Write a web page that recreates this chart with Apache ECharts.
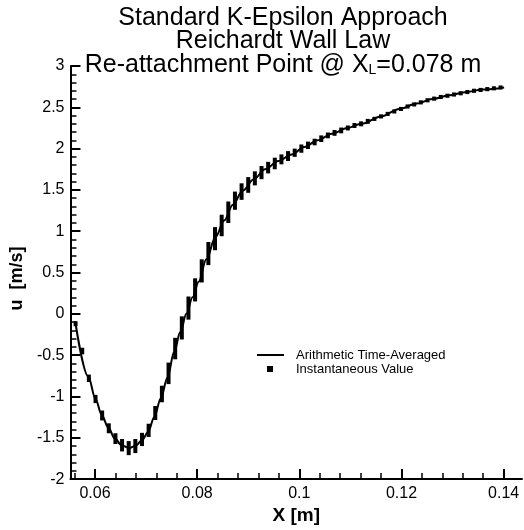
<!DOCTYPE html>
<html>
<head>
<meta charset="utf-8">
<script src="https://cdn.jsdelivr.net/npm/echarts@6/dist/echarts.min.js"></script>
<style>
html,body{margin:0;padding:0;background:#fff;}
#main{width:524px;height:530px;}
</style>
</head>
<body>
<div id="main"></div>
<script>
// Arithmetic time-averaged velocity profile
const xAvg = [0.0562, 0.0587, 0.0601, 0.0613, 0.0626, 0.0639, 0.0652, 0.0667, 0.0680, 0.0692, 0.0704, 0.0716, 0.0729, 0.0742, 0.0755, 0.0767, 0.0779, 0.0791, 0.0803, 0.0818, 0.0836, 0.0853, 0.0870, 0.0889, 0.0911, 0.0933, 0.0959, 0.0985, 0.1010, 0.1036, 0.1064, 0.1094, 0.1122, 0.1160, 0.1196, 0.1230, 0.1260, 0.1294, 0.1324, 0.1360, 0.1401];
const uAvg = [-0.12, -0.76, -1.03, -1.22, -1.375, -1.51, -1.59, -1.625, -1.595, -1.53, -1.43, -1.25, -1.02, -0.77, -0.46, -0.22, 0.0, 0.20, 0.39, 0.66, 0.93, 1.13, 1.32, 1.49, 1.63, 1.75, 1.85, 1.93, 2.02, 2.10, 2.18, 2.25, 2.30, 2.39, 2.48, 2.545, 2.60, 2.645, 2.683, 2.715, 2.74];

// Instantaneous values: position, centre value and half-spread of the marks
const xInst = [0.0562, 0.0575, 0.0588, 0.0601, 0.0614, 0.0627, 0.0640, 0.0653, 0.0666, 0.0679, 0.0692, 0.0705, 0.0718, 0.0731, 0.0744, 0.0757, 0.0770, 0.0783, 0.0796, 0.0809, 0.0822, 0.0835, 0.0848, 0.0861, 0.0874, 0.0887, 0.0900, 0.0913, 0.0926, 0.0939, 0.0952, 0.0965, 0.0978, 0.0991, 0.1004, 0.1017, 0.1030, 0.1043, 0.1056, 0.1069, 0.1082, 0.1095, 0.1108, 0.1121, 0.1134, 0.1147, 0.1160, 0.1173, 0.1186, 0.1199, 0.1212, 0.1225, 0.1238, 0.1251, 0.1264, 0.1277, 0.1290, 0.1303, 0.1316, 0.1329, 0.1342, 0.1355, 0.1368, 0.1381, 0.1394];
const uInst = [-0.12, -0.45, -0.78, -1.03, -1.23, -1.385, -1.51, -1.59, -1.625, -1.60, -1.52, -1.41, -1.20, -0.97, -0.72, -0.42, -0.17, 0.07, 0.29, 0.52, 0.73, 0.91, 1.07, 1.23, 1.37, 1.48, 1.56, 1.64, 1.71, 1.77, 1.82, 1.87, 1.91, 1.95, 2.00, 2.04, 2.08, 2.12, 2.16, 2.19, 2.22, 2.25, 2.28, 2.30, 2.33, 2.36, 2.39, 2.42, 2.45, 2.48, 2.51, 2.535, 2.56, 2.585, 2.605, 2.625, 2.64, 2.655, 2.67, 2.685, 2.70, 2.71, 2.72, 2.73, 2.74];
const uInstSpread = [0.03, 0.04, 0.045, 0.05, 0.06, 0.06, 0.065, 0.075, 0.085, 0.085, 0.08, 0.08, 0.085, 0.1, 0.13, 0.13, 0.14, 0.14, 0.14, 0.14, 0.14, 0.14, 0.13, 0.13, 0.11, 0.10, 0.095, 0.085, 0.08, 0.07, 0.07, 0.06, 0.06, 0.05, 0.05, 0.045, 0.04, 0.04, 0.035, 0.035, 0.035, 0.03, 0.03, 0.03, 0.03, 0.025, 0.025, 0.025, 0.025, 0.025, 0.025, 0.025, 0.025, 0.025, 0.025, 0.025, 0.025, 0.025, 0.025, 0.025, 0.025, 0.025, 0.025, 0.025, 0.025];

// Axis ticks
const xMajorTicks = [0.06, 0.08, 0.1, 0.12, 0.14];
const xMinorTicks = [0.056, 0.064, 0.068, 0.072, 0.076, 0.084, 0.088, 0.092, 0.096, 0.104, 0.108, 0.112, 0.116, 0.124, 0.128, 0.132, 0.136];

const titleLines = ['Standard K-Epsilon Approach', 'Reichardt Wall Law', 'Re-attachment Point @ X{sub|L}=0.078 m'];
const seriesNames = ['Arithmetic Time-Averaged', 'Instantaneous Value'];

const FONT = 'Liberation Sans, Arial, Helvetica, sans-serif';
const chart = echarts.init(document.getElementById('main'), null, {renderer: 'canvas'});

const avgData = xAvg.map((x, i) => [x, uAvg[i]]);
const instData = xInst.map((x, i) => [x, uInst[i] - uInstSpread[i], uInst[i] + uInstSpread[i]]);

const option = {
  backgroundColor: '#fff',
  animation: false,
  title: {
    text: titleLines.join('\n'),
    left: 283,
    top: 6,
    textAlign: 'center',
    padding: 0,
    textStyle: {
      fontFamily: FONT, fontSize: 25, fontWeight: 'normal', color: '#000', lineHeight: 23.5,
      rich: {
        sub: {fontFamily: FONT, fontSize: 14, color: '#000', padding: [10, 0, 0, 0]}
      }
    }
  },
  grid: {left: 62, right: 2, top: 66, bottom: 42, containLabel: false},
  legend: [
    {
      data: [seriesNames[0]], left: 257, top: 348, padding: 0, orient: 'vertical',
      icon: 'rect', itemWidth: 27, itemHeight: 2,
      formatter: '{gap|}{name}',
      textStyle: {fontFamily: FONT, fontSize: 13, color: '#000', lineHeight: 14,
        rich: {gap: {width: 7}, name: {fontFamily: FONT, fontSize: 13, color: '#000'}}}
    },
    {
      data: [seriesNames[1]], left: 267, top: 362, padding: 0, orient: 'vertical',
      icon: 'rect', itemWidth: 6, itemHeight: 6,
      formatter: '{gap|}{name}',
      textStyle: {fontFamily: FONT, fontSize: 13, color: '#000', lineHeight: 14,
        rich: {gap: {width: 18}, name: {fontFamily: FONT, fontSize: 13, color: '#000'}}}
    }
  ],
  xAxis: [
    {
      type: 'value', min: 0.0552, max: 0.1436, position: 'bottom',
      name: 'X [m]', nameLocation: 'middle', nameGap: 21,
      nameTextStyle: {fontFamily: FONT, fontSize: 19, fontWeight: 'bold', color: '#000'},
      axisLine: {show: true, onZero: false, lineStyle: {color: '#000', width: 2}},
      axisTick: {show: true, inside: true, length: 10, customValues: xMajorTicks, lineStyle: {color: '#000', width: 2}},
      axisLabel: {show: true, customValues: xMajorTicks, margin: 6, fontFamily: FONT, fontSize: 16, color: '#000'},
      splitLine: {show: false}
    },
    {
      type: 'value', min: 0.0552, max: 0.1436, position: 'bottom', offset: 0,
      axisLine: {show: false, onZero: false},
      axisTick: {show: true, inside: true, length: 6, customValues: xMinorTicks, lineStyle: {color: '#000', width: 1.5}},
      axisLabel: {show: false},
      splitLine: {show: false}
    }
  ],
  yAxis: {
    type: 'value', min: -2, max: 3, interval: 0.5,
    name: 'u  [m/s]', nameLocation: 'middle', nameGap: 34,
    nameTextStyle: {fontFamily: FONT, fontSize: 18, fontWeight: 'bold', color: '#000', padding: [0, 0, 0, -12]},
    axisLine: {show: true, onZero: false, lineStyle: {color: '#000', width: 2}},
    axisTick: {show: true, inside: true, length: 10, lineStyle: {color: '#000', width: 2}},
    minorTick: {show: true, splitNumber: 5, length: 6, lineStyle: {color: '#000', width: 1.5}},
    axisLabel: {margin: 6, fontFamily: FONT, fontSize: 16, color: '#000'},
    splitLine: {show: false},
    minorSplitLine: {show: false}
  },
  series: [
    {
      name: seriesNames[0], type: 'line', xAxisIndex: 0, data: avgData,
      smooth: 0.35, smoothMonotone: 'x', symbol: 'none', color: '#000',
      lineStyle: {color: '#000', width: 2}, z: 3
    },
    {
      name: seriesNames[1], type: 'custom', xAxisIndex: 0, data: instData, color: '#000',
      itemStyle: {color: '#000'},
      encode: {x: 0, y: [1, 2]},
      renderItem: function (params, api) {
        const x = api.value(0);
        const top = api.coord([x, api.value(2)]);
        const bot = api.coord([x, api.value(1)]);
        const h = Math.max(bot[1] - top[1], 4);
        const cy = (top[1] + bot[1]) / 2;
        return {
          type: 'rect',
          shape: {x: top[0] - 2, y: cy - h / 2, width: 4, height: h},
          style: {fill: '#000'}
        };
      },
      z: 4
    }
  ]
};
chart.setOption(option);
</script>
</body>
</html>
